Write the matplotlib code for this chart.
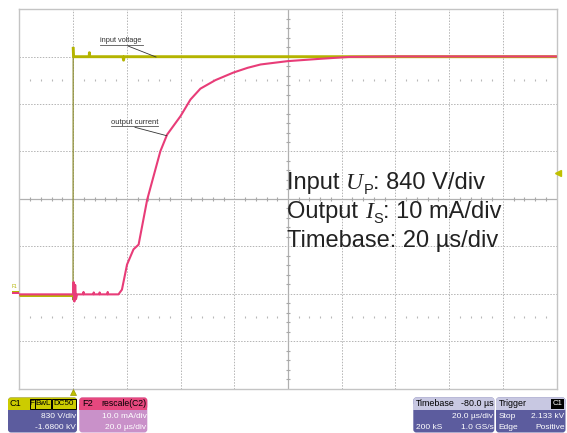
import matplotlib
matplotlib.use('Agg')
import matplotlib.pyplot as plt
import numpy as np
from matplotlib.patches import FancyBboxPatch, Rectangle

plt.rcParams['font.family'] = ['Liberation Sans', 'DejaVu Sans']

# ---------------- data ----------------
time_per_div = 20.0      # µs/div
time_left = -20.0        # µs at left edge
n_xdiv = 10
n_ydiv = 8
volt_per_div = 830.0     # V/div
volt_offset = -1680.0    # V
curr_per_div = 10.0      # mA/div
curr_offset = -20.24     # mA
trigger_level = 2133.0   # V

voltage_t = [-20, -0.1, 0.0, 0.05, 0.2, 6.0, 6.1, 6.2, 18.6, 18.8, 19.0, 180]
voltage_V = [0, 0, -90, 4340, 4170, 4170, 4240, 4170, 4170, 4110, 4170, 4170]

current_t = [-20, 0.0, 0.2, 0.5, 0.8, 1.1, 1.5, 3.8, 3.9, 4.0, 7.6, 7.7, 7.8,
             9.8, 9.9, 10.0, 12.8, 12.9, 13.0, 16.9, 18.2, 20.1, 22.5, 24.4,
             27.6, 32.5, 35.0, 40.0, 43.7, 47.4, 53.0, 59.7, 65.0, 69.8,
             79.8, 92.1, 103.0, 120.0, 180.0]
current_mA = [0, 0, 2.6, -1.5, 2.0, -1.0, 0, 0, 0.5, 0, 0, 0.4, 0,
              0, 0.4, 0, 0, 0.5, 0, 0, 1.0, 6.3, 9.5, 10.5,
              20.0, 30.2, 33.7, 37.6, 41.1, 43.4, 45.2, 46.8, 47.8, 48.5,
              49.2, 49.7, 50.1, 50.2, 50.2]

# ---------------- figure ----------------
W, H = 567, 433
fig = plt.figure(figsize=(W / 100, H / 100), dpi=100)
fig.patch.set_facecolor('white')

L, R, T, B = 19.3, 556.7, 9.3, 388.5
ax = fig.add_axes([L / W, 1 - B / H, (R - L) / W, (B - T) / H])
t_right = time_left + n_xdiv * time_per_div
ax.set_xlim(time_left, t_right)
ax.set_ylim(-n_ydiv / 2, n_ydiv / 2)
ax.set_xticks([]); ax.set_yticks([])
for s in ax.spines.values():
    s.set_color('#c4c4c4'); s.set_linewidth(1.0)

gcol = '#b4b4b4'
for i in range(1, n_xdiv):
    t = time_left + i * time_per_div
    if i == n_xdiv // 2:
        ax.axvline(t, color='#b0b0b0', lw=0.9, zorder=1)
    else:
        ax.axvline(t, color=gcol, lw=0.7, ls=(0, (1.5, 1.5)), zorder=1)
for j in range(1, n_ydiv):
    y = -n_ydiv / 2 + j
    if j == n_ydiv // 2:
        ax.axhline(y, color='#b0b0b0', lw=0.9, zorder=1)
    else:
        ax.axhline(y, color=gcol, lw=0.7, ls=(0, (1.5, 1.5)), zorder=1)

# minor ticks on centre axes
tc = time_left + n_xdiv / 2 * time_per_div
mt = np.arange(time_left, t_right + 0.01, time_per_div / 5)
mt = mt[np.abs(((mt - time_left) / time_per_div) - np.round((mt - time_left) / time_per_div)) > 1e-6]
ax.plot(mt, np.zeros_like(mt), ls='none', marker='|', ms=3.2, mew=0.8, color='#a8a8a8', zorder=1)
my = np.arange(-n_ydiv / 2, n_ydiv / 2 + 0.01, 0.2)
my = my[np.abs(my - np.round(my)) > 1e-6]
ax.plot(np.full_like(my, tc), my, ls='none', marker='_', ms=3.2, mew=0.8, color='#a8a8a8', zorder=1)
for yr in (-2.5, 2.5):
    ax.plot(mt, np.full_like(mt, yr), ls='none', marker='|', ms=1.2, mew=0.8, color='#b8b8b8', zorder=1)

# traces
vy = (np.array(voltage_V) + volt_offset) / volt_per_div
iy = (np.array(current_mA) + curr_offset) / curr_per_div
ax.plot(voltage_t[:5], vy[:5], color='#8c8c30', lw=0.9, zorder=3)
ax.plot(voltage_t[3:], vy[3:], color='#b4b400', lw=2.1, zorder=3, solid_capstyle='butt')
ax.plot(voltage_t[:2], vy[:2], color='#b4b400', lw=2.1, zorder=3, solid_capstyle='butt')
ax.plot(current_t, iy + 0.01, color='#e83c78', lw=1.5, zorder=4)

# trigger markers
ax.plot([0], [-n_ydiv / 2 - 0.08], marker='^', ms=5, color='#c0c000', mec='#9a9a00', mew=0.5, clip_on=False, zorder=5)
ax.plot([t_right + 0.6], [(trigger_level + volt_offset) / volt_per_div], marker='<', ms=4, color='#c0c000',
        clip_on=False, zorder=5)

# ---------------- overlay in pixel coords ----------------
ox = fig.add_axes([0, 0, 1, 1], zorder=10)
ox.set_xlim(0, W); ox.set_ylim(H, 0); ox.axis('off'); ox.patch.set_visible(False)

ox.add_patch(Rectangle((12, 290.5), 7, 1.5, color='#b4b400', lw=0))
ox.add_patch(Rectangle((12, 292), 7, 1.5, color='#e83c78', lw=0))
ox.text(15, 286, 'F1', fontsize=3.5, color='#b4b400', ha='center', va='center')

# annotations
ox.text(100, 41, 'input voltage', fontsize=5.3, color='#333333', ha='left', va='center')
ox.plot([100, 143], [44.6, 44.6], color='#555555', lw=0.6)
ox.plot([128, 156], [46, 57], color='#333333', lw=0.6)
ox.text(110.7, 122.3, 'output current', fontsize=5.5, color='#333333', ha='left', va='center')
ox.plot([110.7, 158.3], [126, 126], color='#555555', lw=0.6)
ox.plot([135, 166.7], [127.3, 135.7], color='#333333', lw=0.6)

# big text composed piecewise
renderer = fig.canvas.get_renderer()
BIG = 17.0
col = '#222222'


def piece(x, y, s, **kw):
    t = ox.text(x, y, s, ha='left', va='baseline', color=col, **kw)
    bb = t.get_window_extent(renderer=renderer)
    return x + bb.width


def line_with_sub(y, pre, sym, sub, post):
    x = 287
    x = piece(x, y, pre, fontsize=BIG)
    x = piece(x, y, sym, fontsize=BIG, family='Liberation Serif', style='italic')
    x = piece(x + 0.5, y + 5, sub, fontsize=BIG * 0.62)
    piece(x, y, post, fontsize=BIG)


line_with_sub(189.3, 'Input ', 'U', 'P', ': 840 V/div')
line_with_sub(218.3, 'Output ', 'I', 'S', ': 10 mA/div')
piece(287, 247.3, 'Timebase: 20 µs/div', fontsize=BIG)


# info boxes
def box(x0, x1, head_col, body_col):
    ox.add_patch(FancyBboxPatch((x0, 397.5), x1 - x0, 35, boxstyle='round,pad=0,rounding_size=3',
                                fc=body_col, ec='none'))
    ox.add_patch(FancyBboxPatch((x0, 397.5), x1 - x0, 12, boxstyle='round,pad=0,rounding_size=3',
                                fc=head_col, ec='none'))
    ox.add_patch(Rectangle((x0, 404), x1 - x0, 5.5, fc=head_col, ec='none'))


fs = 6.0
purple = '#5c5c9e'
box(8, 77, '#cccc00', purple)
ox.text(10, 403.8, 'C1', fontsize=6.6, color='black', ha='left', va='center')
for (a, b, s) in [(29.5, 34.5, 'F'), (35, 51, 'BwL'), (51.5, 76, 'DC50')]:
    ox.add_patch(Rectangle((a, 398.5), b - a, 10, fc='#cccc00', ec='black', lw=0.7))
    ox.text((a + b) / 2, 403.8, s, fontsize=5.8, color='black', ha='center', va='center')
ox.text(76, 418.3, '830 V/div', fontsize=fs, color='white', ha='right', va='baseline')
ox.text(76, 428.8, '-1.6800 kV', fontsize=fs, color='white', ha='right', va='baseline')

box(79.3, 147.3, '#e6487e', '#c991c9')
ox.text(82, 403.8, 'F2', fontsize=6.6, color='black', ha='left', va='center')
ox.text(146.5, 403.8, 'rescale(C2)', fontsize=6.2, color='black', ha='right', va='center')
ox.text(146.5, 418.3, '10.0 mA/div', fontsize=fs, color='white', ha='right', va='baseline')
ox.text(146.5, 428.8, '20.0 µs/div', fontsize=fs, color='white', ha='right', va='baseline')

box(413.3, 494.3, '#c8c8e2', purple)
ox.text(415.5, 403.8, 'Timebase', fontsize=6.4, color='black', ha='left', va='center')
ox.text(494, 403.8, '-80.0 µs', fontsize=6.4, color='black', ha='right', va='center')
ox.text(493.5, 418.3, '20.0 µs/div', fontsize=fs, color='white', ha='right', va='baseline')
ox.text(415.5, 428.8, '200 kS', fontsize=fs, color='white', ha='left', va='baseline')
ox.text(493.5, 428.8, '1.0 GS/s', fontsize=fs, color='white', ha='right', va='baseline')

box(496, 565.5, '#c8c8e2', purple)
ox.text(498.5, 403.8, 'Trigger', fontsize=6.4, color='black', ha='left', va='center')
ox.add_patch(Rectangle((551, 399), 13, 9.5, fc='black', ec='none'))
ox.text(557.5, 403.8, 'C1', fontsize=5.6, color='white', ha='center', va='center')
ox.text(498.5, 418.3, 'Stop', fontsize=fs, color='white', ha='left', va='baseline')
ox.text(564.5, 418.3, '2.133 kV', fontsize=fs, color='white', ha='right', va='baseline')
ox.text(498.5, 428.8, 'Edge', fontsize=fs, color='white', ha='left', va='baseline')
ox.text(564.5, 428.8, 'Positive', fontsize=fs, color='white', ha='right', va='baseline')

fig.savefig('out.png', dpi=100, facecolor='white')
